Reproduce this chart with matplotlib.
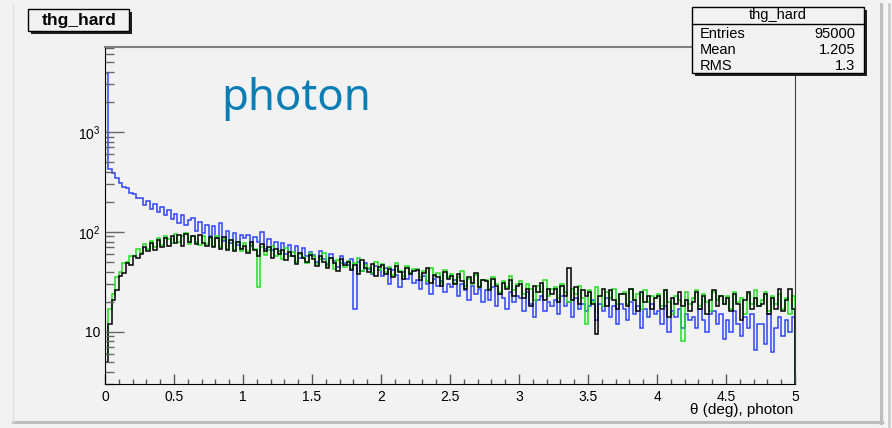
"""
thg_hard photon theta distribution, ROOT-style log histogram.
"""
import numpy as np
import matplotlib
matplotlib.use("Agg")
import matplotlib.pyplot as plt
import matplotlib.ticker as mtick
from matplotlib.patches import Rectangle
from matplotlib.lines import Line2D

plt.rcParams["font.family"] = ["Liberation Sans", "DejaVu Sans"]
plt.rcParams["mathtext.fontset"] = "custom"
plt.rcParams["mathtext.rm"] = "Liberation Sans"

# ──────────────────────────────────────────────
# Data (counts per 0.025 deg bin)
# ──────────────────────────────────────────────
X_MIN, X_MAX, N_BINS = 0.0, 5.0, 200

blue_counts = [
    3900, 430, 392, 344, 312, 284, 272, 246, 240, 220,
    218, 188, 204, 170, 190, 158, 178, 146, 166, 136,
    152, 124, 146, 116, 132, 138, 102, 126, 98, 118,
    92, 114, 86, 124, 82, 102, 78, 98, 74, 94,
    86, 94, 72, 88, 80, 100, 68, 84, 66, 80,
    64, 78, 60, 74, 58, 72, 55, 69, 57, 63,
    59, 50, 64, 54, 48, 60, 51, 45, 57, 49,
    47, 53, 17, 50, 41, 49, 43, 38, 46, 42,
    36, 44, 30, 42, 37, 28, 40, 34, 39, 31,
    33, 27, 36, 30, 24, 34, 29, 32, 25, 30,
    28, 33, 23, 30, 26, 21, 29, 24, 27, 20,
    26, 21, 28, 18, 24, 22, 17, 25, 20, 23,
    22, 16, 25, 19, 14, 21, 23, 16, 20, 18,
    21, 15, 23, 18, 20, 14, 22, 17, 19, 16,
    18, 21, 13, 19, 16, 22, 14, 18, 12, 19,
    17, 13, 20, 15, 18, 11, 17, 14, 19, 15,
    16, 12, 18, 10, 16, 14, 17, 11, 15, 13,
    14, 11, 17, 13, 10, 15, 16, 12, 15, 8.5,
    13, 10, 16, 12, 9, 14, 11, 15, 6.5, 12,
    12, 7.5, 15, 6.3, 11, 14, 9, 13, 10, 14,
]

green_counts = [
    6, 17, 24, 35, 40, 49, 50, 58, 57, 67,
    62, 75, 68, 82, 70, 86, 74, 92, 84, 78,
    95, 80, 90, 97, 76, 92, 80, 74, 91, 76,
    87, 72, 90, 70, 85, 68, 83, 66, 80, 64,
    78, 64, 74, 68, 28, 70, 59, 66, 72, 57,
    65, 54, 69, 58, 63, 50, 60, 56, 49, 61,
    57, 48, 53, 61, 46, 55, 43, 52, 49, 45,
    51, 43, 49, 55, 41, 47, 44, 39, 50, 42,
    48, 40, 45, 37, 49, 41, 36, 46, 39, 43,
    43, 35, 41, 32, 44, 36, 39, 31, 42, 35,
    38, 31, 35, 41, 29, 34, 30, 37, 28, 33,
    33, 27, 35, 30, 25, 32, 28, 36, 26, 30,
    32, 24, 30, 27, 21, 29, 25, 33, 23, 27,
    28, 22, 30, 25, 20, 27, 24, 29, 22, 12,
    26, 20, 28, 23, 18, 25, 22, 27, 19, 24,
    25, 19, 27, 21, 24, 17, 26, 20, 23, 22,
    24, 18, 26, 20, 15, 23, 21, 8, 25, 19,
    22, 26, 18, 24, 20, 16, 25, 21, 23, 19,
    23, 17, 25, 20, 22, 15, 24, 19, 26, 18,
    21, 25, 16, 23, 19, 24, 17, 22, 15, 23,
]

black_counts = [
    5, 12, 21, 26, 36, 39, 49, 47, 58, 55,
    60, 70, 65, 78, 66, 83, 70, 86, 72, 90,
    78, 93, 73, 95, 80, 91, 75, 94, 78, 72,
    89, 70, 86, 68, 88, 66, 83, 64, 80, 67,
    72, 62, 80, 66, 58, 76, 64, 70, 55, 68,
    60, 66, 52, 63, 57, 48, 62, 55, 50, 59,
    54, 46, 58, 50, 44, 55, 49, 41, 53, 47,
    50, 42, 47, 38, 52, 44, 40, 48, 36, 45,
    47, 38, 43, 35, 46, 40, 34, 44, 38, 41,
    42, 33, 39, 44, 31, 37, 35, 29, 40, 34,
    36, 30, 38, 32, 27, 35, 31, 39, 28, 33,
    32, 26, 34, 29, 24, 31, 27, 33, 23, 29,
    30, 22, 27, 18, 29, 25, 31, 21, 27, 24,
    27, 20, 29, 23, 44, 21, 28, 19, 26, 23,
    25, 19, 9.5, 23, 27, 18, 26, 21, 17, 24,
    24, 18, 27, 21, 16, 25, 20, 23, 17, 22,
    23, 17, 26, 14, 22, 19, 25, 18, 21, 16,
    20, 25, 17, 23, 15, 21, 26, 18, 23, 19,
    22, 16, 24, 19, 13, 21, 25, 17, 22, 18,
    19, 24, 15, 22, 17, 27, 16, 21, 27, 17,
]

y_tick_values = [10, 100, 1000]
y_tick_labels = ["10", r"$10^2$", r"$10^3$"]
x_tick_values = [0, 0.5, 1, 1.5, 2, 2.5, 3, 3.5, 4, 4.5, 5]
x_tick_labels = ["0", "0.5", "1", "1.5", "2", "2.5", "3", "3.5", "4", "4.5", "5"]

stat_names = ["Entries", "Mean", "RMS"]
stat_values = ["95000", "1.205", "1.3"]

BG = "#f2f2f2"
W, H = 892, 428


def fx(px):
    return px / W


def fy(py):
    return 1 - py / H


# ──────────────────────────────────────────────
# Figure
# ──────────────────────────────────────────────
fig = plt.figure(figsize=(W / 100, H / 100), dpi=100, facecolor=BG)
ax = fig.add_axes([fx(105), fy(384), (795 - 105) / W, (384 - 47) / H])
ax.set_facecolor(BG)

edges = np.linspace(X_MIN, X_MAX, N_BINS + 1)
ax.stairs(blue_counts, edges, baseline=1, color="#2f45ff", lw=1.1)
ax.stairs(green_counts, edges, baseline=1, color="#1fe01f", lw=1.1)
ax.stairs(black_counts, edges, baseline=1, color="black", lw=1.1)

ax.set_yscale("log")
ax.set_xlim(X_MIN, X_MAX)
ax.set_ylim(3.0, 7100)

ax.xaxis.set_major_locator(mtick.FixedLocator(x_tick_values))
ax.xaxis.set_major_formatter(mtick.FixedFormatter(x_tick_labels))
ax.xaxis.set_minor_locator(mtick.MultipleLocator(0.1))
ax.yaxis.set_major_locator(mtick.FixedLocator(y_tick_values))
ax.yaxis.set_major_formatter(mtick.FixedFormatter(y_tick_labels))
ax.yaxis.set_minor_locator(mtick.LogLocator(base=10, subs=np.arange(2, 10)))
ax.yaxis.set_minor_formatter(mtick.NullFormatter())

ax.tick_params(axis="x", which="major", direction="in", length=7, width=1,
               color="#555555", labelsize=10, pad=4)
ax.tick_params(axis="x", which="minor", direction="in", length=3.6, width=1,
               color="#555555")
ax.tick_params(axis="y", which="major", direction="in", length=14, width=1,
               color="#666666", labelsize=10, pad=3)
ax.tick_params(axis="y", which="minor", direction="in", length=6.5, width=1,
               color="#666666")

ax.spines["left"].set_color("black")
ax.spines["bottom"].set_color("black")
ax.spines["top"].set_color("#808080")
ax.spines["top"].set_linewidth(1.5)
ax.spines["right"].set_color("#404040")

# axis title
fig.text(fx(793), fy(410), "\u03b8 (deg), photon", ha="right", va="center",
         fontsize=11)

# ──────────────────────────────────────────────
# Canvas bevel
# ──────────────────────────────────────────────
fig.add_artist(Rectangle((fx(886), 0), 1 - fx(886), 1, transform=fig.transFigure,
                         fc="#f7f7f7", ec="none", zorder=-1))
fig.add_artist(Line2D([fx(881), fx(881)], [fy(423), fy(4)], transform=fig.transFigure,
                      color="#bdbdbd", lw=2.2, zorder=1))
fig.add_artist(Line2D([fx(13), fx(882)], [fy(422), fy(422)], transform=fig.transFigure,
                      color="#bdbdbd", lw=2.2, zorder=1))
fig.add_artist(Line2D([fx(889), fx(889)], [fy(426), fy(4)], transform=fig.transFigure,
                      color="#cccccc", lw=2.0, zorder=1))
fig.add_artist(Line2D([fx(13), fx(13)], [fy(422), fy(4)], transform=fig.transFigure,
                      color="#e2e2e2", lw=1.0, zorder=1))


def shadow_box(x0, y0, x1, y1):
    fig.add_artist(Rectangle((fx(x0 + 3), fy(y1 + 3)), fx(x1 - x0), (y1 - y0) / H,
                             transform=fig.transFigure, fc="#202020", ec="none", zorder=5))
    fig.add_artist(Rectangle((fx(x0), fy(y1)), fx(x1 - x0), (y1 - y0) / H,
                             transform=fig.transFigure, fc=BG, ec="black", lw=1.0, zorder=6))


# title box
shadow_box(28, 9, 129, 31)
fig.text(fx(79), fy(20.5), "thg_hard", ha="center", va="center", fontsize=12.5,
         fontweight="bold", zorder=7)

# stats box
shadow_box(692, 7, 864, 73)
fig.add_artist(Line2D([fx(692), fx(864)], [fy(24), fy(24)], transform=fig.transFigure,
                      color="black", lw=1.0, zorder=7))
fig.text(fx(778), fy(15.5), "thg_hard", ha="center", va="center", fontsize=10.5, zorder=7)
for i, (name, val) in enumerate(zip(stat_names, stat_values)):
    yy = fy(33.5 + i * 16.5)
    fig.text(fx(700), yy, name, ha="left", va="center", fontsize=10.5, zorder=7)
    fig.text(fx(855), yy, val, ha="right", va="center", fontsize=10.5, zorder=7)

# annotation
fig.text(fx(221), fy(110), "photon", ha="left", va="baseline", fontsize=31.5,
         family=["Noto Sans", "DejaVu Sans"], color="#0a7db4", zorder=8)

fig.savefig("out.png", dpi=100, facecolor=BG)
